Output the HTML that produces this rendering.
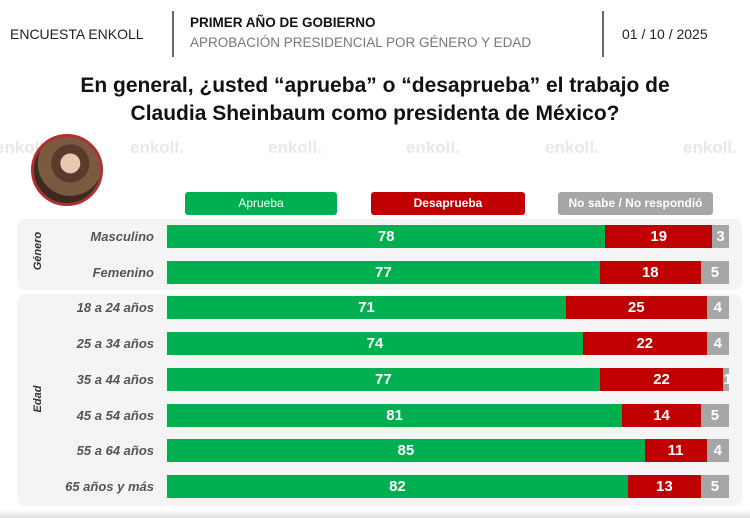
<!DOCTYPE html>
<html><head><meta charset="utf-8"><style>
body{margin:0;width:750px;height:518px;background:#fff;font-family:"Liberation Sans",sans-serif;position:relative;overflow:hidden}
.a{position:absolute}
.bar{position:absolute;height:23px;color:#fff;font-weight:bold;font-size:15px;line-height:23px;text-align:center;overflow:hidden}
.g{background:#00b050}.r{background:#c00000}.y{background:#a6a6a6}
.lab{position:absolute;right:596px;font-style:italic;font-weight:bold;color:#555;font-size:13px;line-height:23px;white-space:nowrap}
.wm{position:absolute;color:#e8e8e8;font-weight:bold;font-size:17px}
</style></head><body>
<div class="a" style="left:10px;top:26px;font-size:14px;color:#222">ENCUESTA ENKOLL</div>
<div class="a" style="left:172px;top:11px;width:2px;height:46px;background:#666"></div>
<div class="a" style="left:190px;top:15px;font-size:13.5px;font-weight:bold;color:#111">PRIMER AÑO DE GOBIERNO</div>
<div class="a" style="left:190px;top:35px;font-size:13.5px;color:#777">APROBACIÓN PRESIDENCIAL POR GÉNERO Y EDAD</div>
<div class="a" style="left:602px;top:11px;width:2px;height:46px;background:#666"></div>
<div class="a" style="left:622px;top:26px;font-size:14px;color:#222">01 / 10 / 2025</div>
<div class="a" style="left:0;width:750px;top:72px;text-align:center;font-size:21px;font-weight:bold;color:#111;line-height:28px">En general, ¿usted “aprueba” o “desaprueba” el trabajo de<br>Claudia Sheinbaum como presidenta de México?</div>
<div class="wm" style="left:-5px;top:138px">enkoll.</div><div class="wm" style="left:130px;top:138px">enkoll.</div><div class="wm" style="left:268px;top:138px">enkoll.</div><div class="wm" style="left:406px;top:138px">enkoll.</div><div class="wm" style="left:545px;top:138px">enkoll.</div><div class="wm" style="left:683px;top:138px">enkoll.</div>
<div class="a" style="left:31px;top:134px;width:72px;height:72px;border-radius:50%;background:radial-gradient(circle at 55% 40%,#e8c9b0 0 18%,#5a3a2a 19% 35%,#7a5a40 36% 60%,#3a2a20 61%);border:3px solid #b03030;box-sizing:border-box"></div>
<div class="a" style="left:185px;top:192px;width:152px;height:23px;background:#00b050;border-radius:3px;color:#fff;font-size:12px;text-align:center;line-height:23px">Aprueba</div>
<div class="a" style="left:371px;top:192px;width:154px;height:23px;background:#c00000;border-radius:3px;color:#fff;font-size:12px;font-weight:bold;text-align:center;line-height:23px">Desaprueba</div>
<div class="a" style="left:558px;top:192px;width:155px;height:23px;background:#a6a6a6;border-radius:3px;color:#fff;font-size:12px;font-weight:bold;text-align:center;line-height:23px">No sabe / No respondió</div>
<div class="a" style="left:17px;top:219px;width:725px;height:71px;background:#f4f4f4;border-radius:8px"></div>
<div class="a" style="left:17px;top:294px;width:725px;height:212px;background:#f4f4f4;border-radius:8px"></div>
<div class="a" style="left:-2px;top:245px;width:80px;text-align:center;transform:rotate(-90deg);font-size:11px;font-style:italic;font-weight:bold;color:#333">Género</div>
<div class="a" style="left:-2px;top:393px;width:80px;text-align:center;transform:rotate(-90deg);font-size:11px;font-style:italic;font-weight:bold;color:#333">Edad</div>
<div id="rows"></div>
<script>
var d=[["Masculino",78,19,3],["Femenino",77,18,5],["18 a 24 años",71,25,4],["25 a 34 años",74,22,4],["35 a 44 años",77,22,1],["45 a 54 años",81,14,5],["55 a 64 años",85,11,4],["65 años y más",82,13,5]];
var h="",x0=167,s=5.62;
d.forEach(function(r,i){var t=Math.round(225+i*35.7);var tot=r[1]+r[2]+r[3];var k=562/tot;
h+='<div class="lab" style="top:'+t+'px">'+r[0]+'</div>';
var x=x0;[[r[1],"g"],[r[2],"r"],[r[3],"y"]].forEach(function(p){var w=p[0]*k;h+='<div class="bar '+p[1]+'" style="left:'+x+'px;top:'+t+'px;width:'+w+'px">'+p[0]+'</div>';x+=w;});});
document.getElementById("rows").innerHTML=h;
</script>
<div class="a" style="left:0;top:510px;width:750px;height:8px;background:linear-gradient(#fff,#ddd)"></div>
</body></html>
